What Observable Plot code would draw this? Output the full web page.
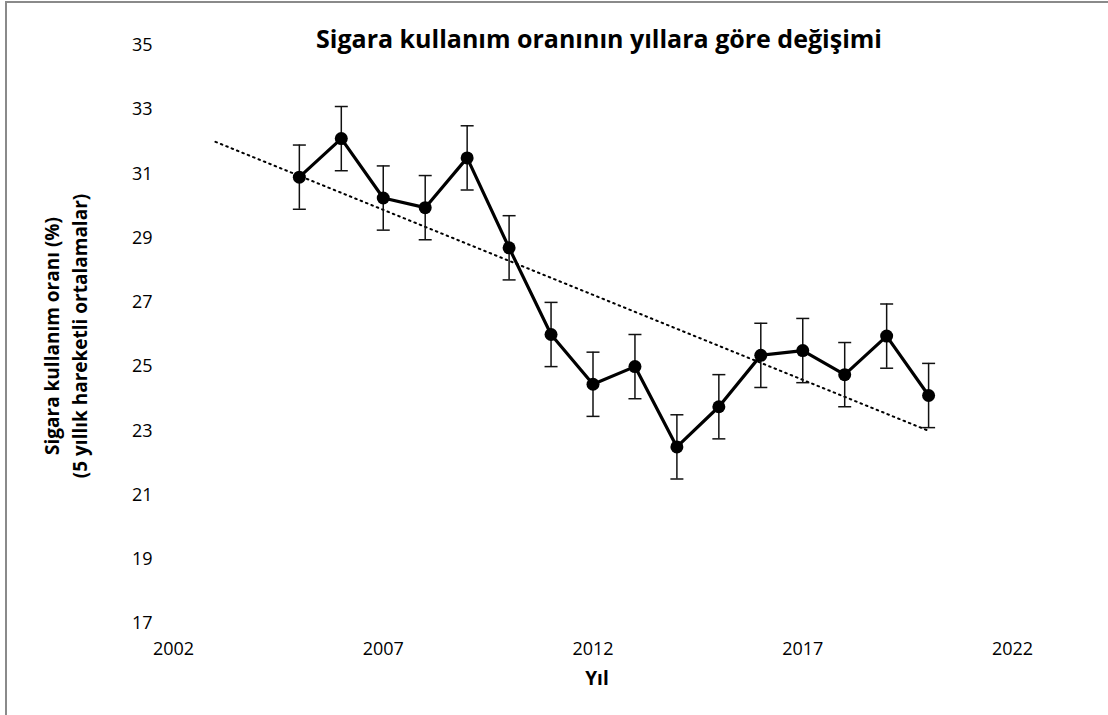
<!DOCTYPE html>
<html>
<head>
<meta charset="utf-8">
<script src="https://cdn.jsdelivr.net/npm/d3@7"></script>
<script src="https://cdn.jsdelivr.net/npm/@observablehq/plot@0.6"></script>
<style>
  html, body { margin: 0; padding: 0; background: #fff; }
  #wrap { position: relative; width: 1108px; height: 715px; overflow: hidden; font-family: "Open Sans", sans-serif; }
  #frame { position: absolute; left: 5px; top: 1px; width: 1200px; height: 800px; border-left: 2px solid #8a8a8a; border-top: 2px solid #8a8a8a; pointer-events: none; }
  #title { position: absolute; left: 0; width: 1198px; top: 21px; text-align: center; font-weight: bold; font-size: 25px; color: #000; }
  #xlabel { position: absolute; left: 0; width: 1194px; top: 665px; text-align: center; font-weight: bold; font-size: 19px; color: #000; }
  #ylabel { position: absolute; left: 66px; top: 336px; transform: translate(-50%, -50%) rotate(-90deg); white-space: nowrap; text-align: center; font-weight: bold; font-size: 19px; line-height: 28px; color: #000; }
  svg { position: absolute; left: 0; top: 0; }
</style>
</head>
<body>
<div id="wrap">
  <div id="chart"></div>
  <div id="frame"></div>
  <div id="title"></div>
  <div id="xlabel"></div>
  <div id="ylabel"></div>
</div>
<script>
const titleText = "Sigara kullanım oranının yıllara göre değişimi";
const xLabelText = "Yıl";
const yLabelLines = ["Sigara kullanım oranı (%)", "(5 yıllık hareketli ortalamalar)"];

const years = [2005, 2006, 2007, 2008, 2009, 2010, 2011, 2012, 2013, 2014, 2015, 2016, 2017, 2018, 2019, 2020];
const values = [30.9, 32.1, 30.25, 29.95, 31.5, 28.7, 26.0, 24.45, 25.0, 22.5, 23.75, 25.35, 25.5, 24.75, 25.95, 24.1];
const errors = [1, 1, 1, 1, 1, 1, 1, 1, 1, 1, 1, 1, 1, 1, 1, 1];

const trendYears = [2003, 2020];
const trendValues = [32.0, 23.0];

const xTicks = [2002, 2007, 2012, 2017, 2022];
const yTicks = [17, 19, 21, 23, 25, 27, 29, 31, 33, 35];

const data = years.map((y, i) => ({year: y, value: values[i], lo: values[i] - errors[i], hi: values[i] + errors[i]}));
const trend = trendYears.map((y, i) => ({year: y, value: trendValues[i]}));

const capSymbol = {
  draw(context, size) {
    context.moveTo(-6.5, 0);
    context.lineTo(6.5, 0);
  }
};

const chart = Plot.plot({
  width: 1108,
  height: 715,
  marginLeft: 173,
  marginRight: 96,
  marginTop: 45,
  marginBottom: 92,
  style: {fontFamily: "Open Sans, sans-serif", fontSize: "18px", color: "#000", background: "transparent"},
  x: {domain: [2002, 2022], ticks: xTicks, tickFormat: d => String(d), tickSize: 0, tickPadding: 19, label: null},
  y: {domain: [17, 35], ticks: yTicks, tickSize: 0, tickPadding: 21, label: null},
  marks: [
    Plot.line(trend, {x: "year", y: "value", stroke: "#000", strokeWidth: 2, strokeDasharray: "1.6,4.2", strokeLinecap: "round"}),
    Plot.ruleX(data, {x: "year", y1: "lo", y2: "hi", stroke: "#111", strokeWidth: 1.5}),
    Plot.dot(data, {x: "year", y: "hi", symbol: capSymbol, stroke: "#111", strokeWidth: 1.5}),
    Plot.dot(data, {x: "year", y: "lo", symbol: capSymbol, stroke: "#111", strokeWidth: 1.5}),
    Plot.line(data, {x: "year", y: "value", stroke: "#000", strokeWidth: 3.2}),
    Plot.dot(data, {x: "year", y: "value", r: 6.5, fill: "#000", stroke: "none"})
  ]
});
document.getElementById("chart").appendChild(chart);
document.getElementById("title").textContent = titleText;
document.getElementById("xlabel").textContent = xLabelText;
document.getElementById("ylabel").innerHTML = yLabelLines.map(s => `<div>${s}</div>`).join("");
</script>
</body>
</html>
